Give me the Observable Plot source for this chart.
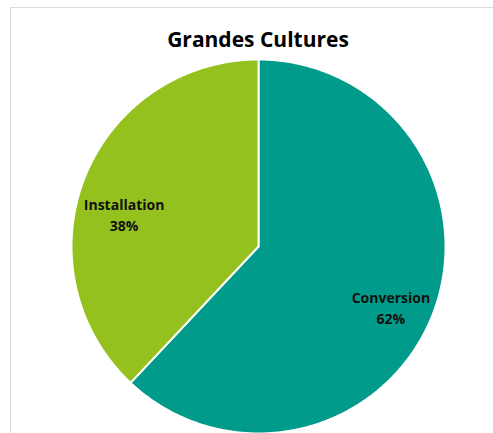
<!DOCTYPE html>
<html>
<head>
<meta charset="utf-8">
<script src="https://cdn.jsdelivr.net/npm/d3@7"></script>
<script src="https://cdn.jsdelivr.net/npm/@observablehq/plot@0.6"></script>
<style>
  html, body { margin: 0; padding: 0; background: #fff; }
  #wrap { position: relative; width: 493px; height: 433px; overflow: hidden; font-family: "Open Sans", sans-serif; }
  #frame { position: absolute; left: 10px; top: 7px; width: 500px; height: 440px; border-left: 1px solid #d9d9d9; border-top: 1px solid #d9d9d9; }
  #title { position: absolute; left: 0; top: 0; width: 516px; height: 55px; text-align: center; line-height: 78px; font-weight: bold; font-size: 21px; color: #000; }
  #chart { position: absolute; left: 0; top: 55px; }
</style>
</head>
<body>
<div id="wrap">
  <div id="frame"></div>
  <div id="title">Grandes Cultures</div>
  <div id="chart"></div>
</div>
<script>
const categories = ["Conversion", "Installation"];
const values = [62, 38];
const labels = ["62%", "38%"];
const colors = ["#009B8A", "#95C11F"];

const pie = d3.pie().sort(null).value(d => d)(values);

// polygon points for each slice (center + arc sampled every half degree)
const pts = [];
pie.forEach((p, i) => {
  const cat = categories[i];
  pts.push({cat, x: 0, y: 0});
  const n = Math.max(2, Math.ceil((p.endAngle - p.startAngle) / (Math.PI / 360)));
  for (let k = 0; k <= n; k++) {
    const a = p.startAngle + (p.endAngle - p.startAngle) * k / n;
    pts.push({cat, x: Math.sin(a), y: Math.cos(a)});
  }
});

const lab = pie.map((p, i) => {
  const a = (p.startAngle + p.endAngle) / 2;
  return {cat: categories[i], text: categories[i] + "\n" + labels[i], x: 0.75 * Math.sin(a), y: 0.75 * Math.cos(a)};
});

const chart = Plot.plot({
  width: 493,
  height: 378,
  margin: 0,
  x: {domain: [-1, 1], range: [71, 445], axis: null},
  y: {domain: [-1, 1], range: [378, 4], axis: null},
  color: {domain: categories, range: colors},
  marks: [
    Plot.line(pts, {x: "x", y: "y", z: "cat", fill: "cat", stroke: "white", strokeWidth: 2, curve: "linear-closed", strokeLinejoin: "round"}),
    Plot.text(lab.filter(d => d.cat === "Conversion"), {x: "x", y: "y", text: "text", dx: 2, dy: 9, fontWeight: "bold", fontSize: 14, fill: "#111", lineHeight: 1.5, fontFamily: "Open Sans"}),
    Plot.text(lab.filter(d => d.cat === "Installation"), {x: "x", y: "y", text: "text", dx: -4, dy: 19, fontWeight: "bold", fontSize: 14, fill: "#111", lineHeight: 1.5, fontFamily: "Open Sans"})
  ]
});
document.getElementById("chart").appendChild(chart);
</script>
</body>
</html>
